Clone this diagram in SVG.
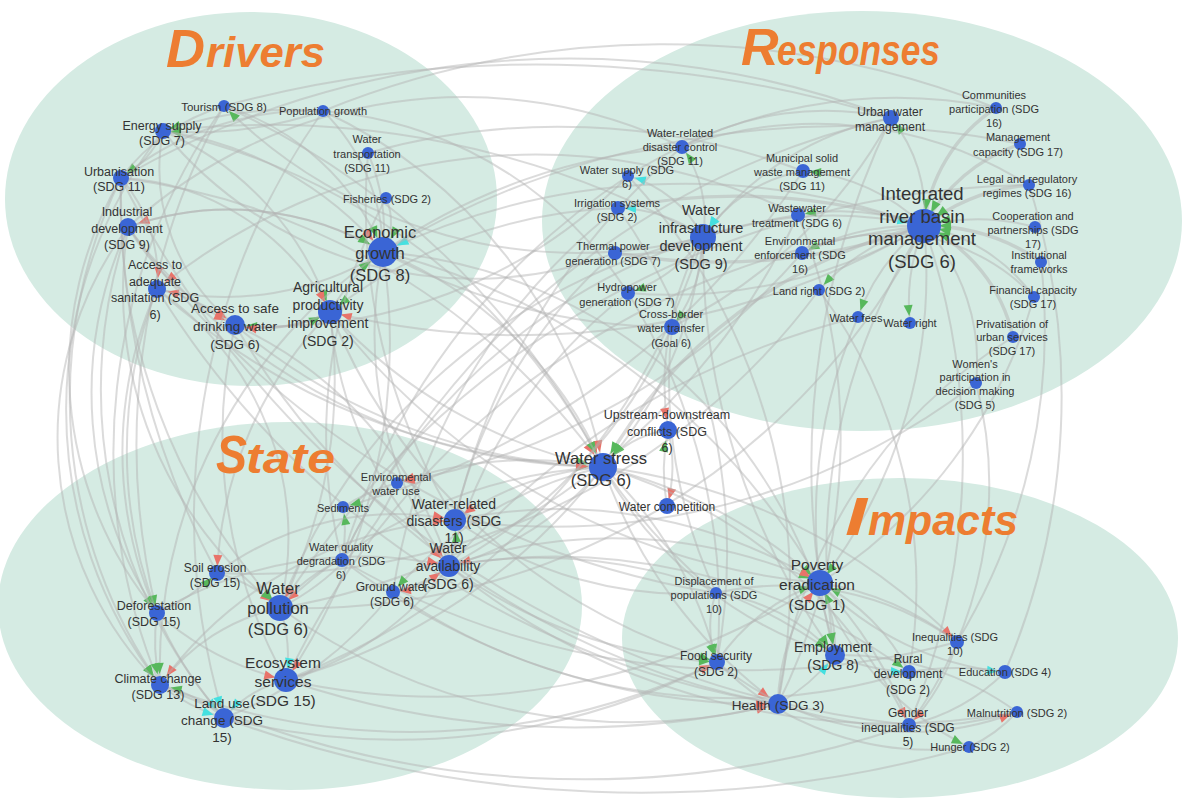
<svg xmlns="http://www.w3.org/2000/svg" width="1183" height="807" viewBox="0 0 1183 807">
<style>
.bg{fill:#d5ebe3}
#connectors path{fill:none;stroke:#b2b2b2;stroke-opacity:.47;stroke-width:2}
#connectors path.w{stroke-width:3.4}
.n circle{fill:#3a65d5}
.n text{font-family:"Liberation Sans",Arial,sans-serif;fill:#333;text-anchor:middle}
.f11{font-size:11px}.f12{font-size:12px}.f125{font-size:12.5px}.f135{font-size:13.5px}.f14{font-size:14px}.f145{font-size:14.5px}.f155{font-size:15.5px}.f165{font-size:16.5px}.f185{font-size:18.5px}
.ttl{font-family:"Liberation Sans",Arial,sans-serif;font-weight:bold;font-style:italic;fill:#ed7d31}
</style>
<defs>
<marker id="gs" markerUnits="userSpaceOnUse" orient="auto" markerWidth="1" markerHeight="1" overflow="visible"><path d="M-18,-4.5 L-7,0 L-18,4.5 Z" fill="#57b85c"/></marker>
<marker id="gm" markerUnits="userSpaceOnUse" orient="auto" markerWidth="1" markerHeight="1" overflow="visible"><path d="M-22,-4.5 L-11,0 L-22,4.5 Z" fill="#57b85c"/></marker>
<marker id="gl" markerUnits="userSpaceOnUse" orient="auto" markerWidth="1" markerHeight="1" overflow="visible"><path d="M-27,-4.5 L-15,0 L-27,4.5 Z" fill="#57b85c"/></marker>
<marker id="rs" markerUnits="userSpaceOnUse" orient="auto" markerWidth="1" markerHeight="1" overflow="visible"><path d="M-18,-4.5 L-7,0 L-18,4.5 Z" fill="#e8736a"/></marker>
<marker id="rm" markerUnits="userSpaceOnUse" orient="auto" markerWidth="1" markerHeight="1" overflow="visible"><path d="M-22,-4.5 L-11,0 L-22,4.5 Z" fill="#e8736a"/></marker>
<marker id="rl" markerUnits="userSpaceOnUse" orient="auto" markerWidth="1" markerHeight="1" overflow="visible"><path d="M-27,-4.5 L-15,0 L-27,4.5 Z" fill="#e8736a"/></marker>
<marker id="cs" markerUnits="userSpaceOnUse" orient="auto" markerWidth="1" markerHeight="1" overflow="visible"><path d="M-18,-4.5 L-7,0 L-18,4.5 Z" fill="#45e0e0"/></marker>
<marker id="cm" markerUnits="userSpaceOnUse" orient="auto" markerWidth="1" markerHeight="1" overflow="visible"><path d="M-22,-4.5 L-11,0 L-22,4.5 Z" fill="#45e0e0"/></marker>
<marker id="cl" markerUnits="userSpaceOnUse" orient="auto" markerWidth="1" markerHeight="1" overflow="visible"><path d="M-27,-4.5 L-15,0 L-27,4.5 Z" fill="#45e0e0"/></marker>
</defs>
<rect width="1183" height="807" fill="#ffffff"/>
<g id="areas">
<ellipse class="bg" cx="251" cy="199" rx="246" ry="187"/>
<ellipse class="bg" cx="862" cy="221" rx="320" ry="210"/>
<ellipse class="bg" cx="290" cy="606" rx="292" ry="184"/>
<ellipse class="bg" cx="900" cy="638" rx="278" ry="160"/>
</g>
<g id="connectors">
<path class="w" d="M996,108 A160,160 0 0 0 924,226" marker-end="url(#gl)"/>
<path class="w" d="M1020,144 A170,170 0 0 0 924,226" marker-end="url(#gl)"/>
<path class="w" d="M1029,185 A200,200 0 0 0 924,226" marker-end="url(#gl)"/>
<path d="M1035,227 A220,220 0 0 0 924,226" marker-end="url(#gl)"/>
<path class="w" d="M1041,262 A200,200 0 0 0 924,226" marker-end="url(#gl)"/>
<path d="M1034,297 A180,180 0 0 0 924,226" marker-end="url(#gl)"/>
<path class="w" d="M1013,337 A160,160 0 0 0 924,226" marker-end="url(#gl)"/>
<path d="M976,383 A200,200 0 0 0 924,226"/>
<path d="M924,226 A150,150 0 0 0 891,118" marker-end="url(#gs)"/>
<path d="M924,226 A200,200 0 0 0 910,323" marker-end="url(#gs)"/>
<path d="M924,226 A200,200 0 0 0 858,317" marker-end="url(#gs)"/>
<path d="M924,226 A220,220 0 0 0 819,290" marker-end="url(#gs)"/>
<path d="M924,226 A250,250 0 0 0 802,253" marker-end="url(#gs)"/>
<path d="M924,226 A250,250 0 0 0 798,215" marker-end="url(#gs)"/>
<path d="M924,226 A200,200 0 0 0 803,171" marker-end="url(#gs)"/>
<path d="M703,237 A400,400 0 0 1 924,226" marker-end="url(#cl)"/>
<path class="w" d="M924,226 A500,500 0 0 0 603,467" marker-end="url(#gl)"/>
<path d="M924,226 A700,700 0 0 0 383,252" marker-end="url(#cl)"/>
<path d="M924,226 A800,800 0 0 1 330,312" marker-end="url(#rm)"/>
<path d="M924,226 A700,700 0 0 1 280,608"/>
<path d="M924,226 A500,500 0 0 1 820,583" marker-end="url(#gm)"/>
<path d="M924,226 A600,600 0 0 0 835,655" marker-end="url(#gm)"/>
<path d="M703,237 A120,120 0 0 0 682,147" marker-end="url(#gs)"/>
<path d="M703,237 A120,120 0 0 0 628,176" marker-end="url(#cs)"/>
<path d="M703,237 A150,150 0 0 0 618,208" marker-end="url(#cs)"/>
<path d="M703,237 A150,150 0 0 1 615,253"/>
<path d="M703,237 A150,150 0 0 1 628,293" marker-end="url(#gs)"/>
<path d="M703,237 A150,150 0 0 1 672,327" marker-end="url(#gs)"/>
<path d="M891,118 A300,300 0 0 0 703,237" marker-end="url(#cm)"/>
<path d="M803,171 A150,150 0 0 0 703,237" marker-end="url(#cm)"/>
<path d="M682,147 A400,400 0 0 1 1029,185"/>
<path d="M628,176 A500,500 0 0 1 996,108"/>
<path class="w" d="M618,208 A600,600 0 0 1 924,226"/>
<path class="w" d="M615,253 A600,600 0 0 0 924,226"/>
<path d="M628,293 A500,500 0 0 0 924,226"/>
<path d="M672,327 A500,500 0 0 0 891,118"/>
<path d="M682,147 A300,300 0 0 1 891,118"/>
<path d="M802,253 A200,200 0 0 1 1034,297"/>
<path d="M224,106 A1200,1200 0 0 1 891,118"/>
<path d="M323,111 A900,900 0 0 1 996,108"/>
<path d="M163,131 A900,900 0 0 1 703,237"/>
<path d="M383,252 A600,600 0 0 1 682,147"/>
<path d="M368,153 A700,700 0 0 1 803,171"/>
<path d="M618,208 A500,500 0 0 0 330,312" marker-end="url(#gm)"/>
<path d="M628,176 A500,500 0 0 1 235,325" marker-end="url(#gm)"/>
<path d="M798,215 A600,600 0 0 0 157,289" marker-end="url(#rm)"/>
<path d="M628,293 A400,400 0 0 0 163,131" marker-end="url(#gs)"/>
<path d="M615,253 A400,400 0 0 1 163,131"/>
<path d="M672,327 A600,600 0 0 1 383,252"/>
<path d="M682,147 A500,500 0 0 0 128,227"/>
<path d="M891,118 A900,900 0 0 0 121,178"/>
<path d="M1020,144 A900,900 0 0 0 383,252"/>
<path d="M703,237 A500,500 0 0 1 224,106" marker-end="url(#gs)"/>
<path d="M383,252 A300,300 0 0 0 128,227" marker-end="url(#rm)"/>
<path d="M383,252 A200,200 0 0 0 323,111"/>
<path d="M383,252 A300,300 0 0 1 157,289" marker-end="url(#rm)"/>
<path d="M121,178 A150,150 0 0 1 157,289" marker-end="url(#rm)"/>
<path d="M163,131 A200,200 0 0 0 235,325"/>
<path d="M163,131 A300,300 0 0 1 330,312" marker-end="url(#gm)"/>
<path d="M128,227 A300,300 0 0 1 383,252" marker-end="url(#gl)"/>
<path d="M224,106 A250,250 0 0 1 383,252" marker-end="url(#gl)"/>
<path d="M386,198 A60,60 0 0 1 383,252" marker-end="url(#gl)"/>
<path d="M368,153 A200,200 0 0 1 383,252"/>
<path d="M323,111 A300,300 0 0 0 121,178" marker-end="url(#gs)"/>
<path d="M323,111 A400,400 0 0 1 163,131" marker-end="url(#gs)"/>
<path d="M330,312 A200,200 0 0 1 383,252" marker-end="url(#gl)"/>
<path d="M235,325 A150,150 0 0 0 330,312" marker-end="url(#gm)"/>
<path d="M330,312 A150,150 0 0 1 235,325" marker-end="url(#rm)"/>
<path d="M157,289 A200,200 0 0 1 235,325" marker-end="url(#rm)"/>
<path d="M121,178 A250,250 0 0 1 330,312" marker-end="url(#rm)"/>
<path d="M163,131 A350,350 0 0 1 383,252" marker-end="url(#rl)"/>
<path d="M128,227 A250,250 0 0 0 235,325" marker-end="url(#rm)"/>
<path d="M224,106 A200,200 0 0 0 121,178"/>
<path d="M163,131 A100,100 0 0 1 121,178"/>
<path d="M383,252 A400,400 0 0 1 603,467" marker-end="url(#rl)"/>
<path d="M330,312 A500,500 0 0 0 603,467" marker-end="url(#gl)"/>
<path d="M235,325 A600,600 0 0 0 603,467" marker-end="url(#gl)"/>
<path d="M323,111 A500,500 0 0 1 603,467" marker-end="url(#rl)"/>
<path d="M121,178 A700,700 0 0 1 603,467" marker-end="url(#rl)"/>
<path d="M128,227 A600,600 0 0 0 603,467" marker-end="url(#gl)"/>
<path d="M163,131 A650,650 0 0 1 603,467" marker-end="url(#gl)"/>
<path d="M157,289 A700,700 0 0 0 603,467" marker-end="url(#rl)"/>
<path d="M224,106 A800,800 0 0 1 603,467"/>
<path d="M121,178 A500,500 0 0 0 160,685" marker-end="url(#gm)"/>
<path d="M128,227 A400,400 0 0 0 157,613" marker-end="url(#gs)"/>
<path d="M163,131 A450,450 0 0 0 160,685" marker-end="url(#gm)"/>
<path d="M157,289 A400,400 0 0 0 224,718" marker-end="url(#cm)"/>
<path d="M121,178 A600,600 0 0 0 280,608" marker-end="url(#gm)"/>
<path d="M128,227 A400,400 0 0 0 280,608" marker-end="url(#rm)"/>
<path d="M330,312 A400,400 0 0 0 217,573" marker-end="url(#rs)"/>
<path d="M330,312 A500,500 0 0 1 280,608" marker-end="url(#rm)"/>
<path d="M383,252 A500,500 0 0 0 160,685" marker-end="url(#gm)"/>
<path d="M383,252 A600,600 0 0 1 286,680" marker-end="url(#rm)"/>
<path d="M235,325 A500,500 0 0 0 286,680"/>
<path d="M224,106 A700,700 0 0 0 157,613" marker-end="url(#gs)"/>
<path d="M323,111 A700,700 0 0 0 224,718" marker-end="url(#cm)"/>
<path d="M368,153 A600,600 0 0 0 455,520"/>
<path d="M386,198 A500,500 0 0 0 342,560"/>
<path d="M157,289 A300,300 0 0 1 280,608"/>
<path d="M235,325 A400,400 0 0 1 449,566"/>
<path d="M330,312 A400,400 0 0 0 449,566" marker-end="url(#rm)"/>
<path d="M383,252 A400,400 0 0 0 449,566" marker-end="url(#rm)"/>
<path d="M121,178 A800,800 0 0 0 217,573"/>
<path d="M128,227 A350,350 0 0 0 160,685"/>
<path d="M157,289 A450,450 0 0 0 157,613"/>
<path d="M121,178 A380,380 0 0 0 157,613"/>
<path d="M224,106 A600,600 0 0 0 160,685"/>
<path d="M128,227 A500,500 0 0 0 224,718"/>
<path d="M703,237 A600,600 0 0 0 280,608"/>
<path d="M703,237 A700,700 0 0 1 286,680"/>
<path d="M924,226 A800,800 0 0 0 286,680"/>
<path d="M628,293 A500,500 0 0 0 449,566"/>
<path d="M672,327 A500,500 0 0 1 449,566"/>
<path d="M615,253 A500,500 0 0 0 455,520"/>
<path d="M618,208 A600,600 0 0 0 393,592"/>
<path d="M682,147 A700,700 0 0 0 455,520"/>
<path d="M628,176 A700,700 0 0 0 342,560"/>
<path d="M798,215 A600,600 0 0 0 342,560"/>
<path d="M798,215 A700,700 0 0 1 280,608"/>
<path d="M802,253 A700,700 0 0 1 397,483" marker-end="url(#rs)"/>
<path d="M1029,185 A900,900 0 0 0 280,608"/>
<path d="M819,290 A700,700 0 0 1 217,573"/>
<path d="M858,317 A800,800 0 0 0 449,566"/>
<path d="M891,118 A800,800 0 0 0 342,560"/>
<path d="M803,171 A800,800 0 0 1 343,507" marker-end="url(#gs)"/>
<path d="M976,383 A700,700 0 0 1 455,520"/>
<path d="M703,237 A300,300 0 0 0 668,430" marker-end="url(#rm)"/>
<path d="M668,430 A150,150 0 0 1 667,506" marker-end="url(#rs)"/>
<path d="M667,506 A200,200 0 0 1 668,430" marker-end="url(#gm)"/>
<path d="M603,467 A300,300 0 0 0 455,520" marker-end="url(#rm)"/>
<path d="M603,467 A300,300 0 0 1 449,566" marker-end="url(#rm)"/>
<path d="M603,467 A400,400 0 0 0 397,483" marker-end="url(#rs)"/>
<path d="M603,467 A500,500 0 0 1 820,583" marker-end="url(#gm)"/>
<path d="M603,467 A400,400 0 0 1 717,662" marker-end="url(#gs)"/>
<path d="M603,467 A500,500 0 0 0 778,704" marker-end="url(#rm)"/>
<path d="M603,467 A500,500 0 0 1 909,725" marker-end="url(#rs)"/>
<path d="M603,467 A600,600 0 0 1 957,642" marker-end="url(#rs)"/>
<path d="M603,467 A400,400 0 0 0 835,655"/>
<path d="M603,467 A600,600 0 0 0 716,593"/>
<path d="M603,467 A500,500 0 0 0 280,608" marker-end="url(#rm)"/>
<path d="M603,467 A600,600 0 0 1 286,680"/>
<path d="M603,467 A400,400 0 0 0 393,592" marker-end="url(#gs)"/>
<path d="M703,237 A400,400 0 0 1 603,467" marker-end="url(#gl)"/>
<path d="M668,430 A100,100 0 0 0 603,467" marker-end="url(#gl)"/>
<path d="M157,613 A200,200 0 0 0 160,685" marker-end="url(#gm)"/>
<path d="M224,718 A150,150 0 0 0 160,685" marker-end="url(#gm)"/>
<path d="M280,608 A200,200 0 0 0 160,685" marker-end="url(#rm)"/>
<path d="M157,613 A200,200 0 0 0 217,573" marker-end="url(#gs)"/>
<path d="M217,573 A150,150 0 0 1 280,608" marker-end="url(#gm)"/>
<path d="M157,613 A300,300 0 0 0 286,680" marker-end="url(#rm)"/>
<path d="M280,608 A150,150 0 0 1 286,680" marker-end="url(#cm)"/>
<path d="M286,680 A120,120 0 0 0 224,718" marker-end="url(#cm)"/>
<path d="M160,685 A200,200 0 0 0 224,718" marker-end="url(#cm)"/>
<path d="M280,608 A150,150 0 0 1 342,560"/>
<path d="M342,560 A150,150 0 0 0 343,507" marker-end="url(#gs)"/>
<path d="M449,566 A120,120 0 0 0 455,520" marker-end="url(#gm)"/>
<path d="M449,566 A100,100 0 0 1 393,592" marker-end="url(#rs)"/>
<path d="M393,592 A150,150 0 0 0 449,566" marker-end="url(#rm)"/>
<path d="M217,573 A300,300 0 0 1 455,520" marker-end="url(#rm)"/>
<path d="M157,613 A400,400 0 0 1 449,566" marker-end="url(#rm)"/>
<path d="M160,685 A400,400 0 0 1 455,520" marker-end="url(#rm)"/>
<path d="M286,680 A300,300 0 0 0 449,566"/>
<path d="M224,718 A400,400 0 0 0 393,592"/>
<path d="M343,507 A200,200 0 0 1 397,483"/>
<path d="M280,608 A250,250 0 0 0 397,483"/>
<path d="M280,608 A600,600 0 0 0 778,704" marker-end="url(#rm)"/>
<path d="M342,560 A700,700 0 0 0 778,704" marker-end="url(#rm)"/>
<path d="M449,566 A500,500 0 0 1 820,583" marker-end="url(#gm)"/>
<path d="M455,520 A500,500 0 0 1 820,583" marker-end="url(#rm)"/>
<path d="M455,520 A400,400 0 0 0 716,593"/>
<path d="M449,566 A500,500 0 0 0 717,662" marker-end="url(#gs)"/>
<path d="M160,685 A700,700 0 0 0 717,662" marker-end="url(#rs)"/>
<path d="M449,566 A500,500 0 0 1 835,655" marker-end="url(#gm)"/>
<path d="M449,566 A600,600 0 0 1 909,672" marker-end="url(#gs)"/>
<path d="M286,680 A700,700 0 0 0 820,583"/>
<path d="M224,718 A700,700 0 0 0 717,662"/>
<path d="M224,718 A1200,1200 0 0 0 969,747"/>
<path d="M160,685 A1000,1000 0 0 0 909,725"/>
<path d="M286,680 A900,900 0 0 0 778,704"/>
<path d="M393,592 A600,600 0 0 0 909,672"/>
<path d="M449,566 A700,700 0 0 0 1017,712"/>
<path d="M342,560 A800,800 0 0 0 957,642"/>
<path d="M835,655 A150,150 0 0 0 820,583" marker-end="url(#gm)"/>
<path d="M909,672 A200,200 0 0 0 820,583" marker-end="url(#gm)"/>
<path d="M778,704 A200,200 0 0 1 820,583" marker-end="url(#rm)"/>
<path d="M717,662 A200,200 0 0 1 820,583" marker-end="url(#gm)"/>
<path d="M820,583 A300,300 0 0 1 957,642"/>
<path d="M820,583 A300,300 0 0 0 1005,672" marker-end="url(#cs)"/>
<path d="M820,583 A300,300 0 0 0 969,747" marker-end="url(#gs)"/>
<path d="M835,655 A200,200 0 0 0 909,672" marker-end="url(#cs)"/>
<path d="M717,662 A300,300 0 0 0 1017,712" marker-end="url(#rs)"/>
<path d="M778,704 A200,200 0 0 0 835,655" marker-end="url(#cm)"/>
<path d="M957,642 A200,200 0 0 1 909,725" marker-end="url(#rs)"/>
<path d="M909,672 A300,300 0 0 1 1005,672"/>
<path d="M716,593 A300,300 0 0 1 957,642"/>
<path d="M716,593 A200,200 0 0 1 835,655"/>
<path d="M717,662 A300,300 0 0 0 969,747"/>
<path d="M778,704 A400,400 0 0 0 1017,712"/>
<path d="M909,725 A200,200 0 0 0 1005,672"/>
<path d="M835,655 A300,300 0 0 1 1017,712"/>
<path d="M969,747 A150,150 0 0 0 1017,712"/>
<path d="M820,583 A400,400 0 0 1 909,725"/>
<path d="M716,593 A100,100 0 0 0 717,662" marker-end="url(#gs)"/>
<path d="M924,226 A700,700 0 0 1 909,725"/>
<path d="M976,383 A400,400 0 0 1 909,725"/>
<path d="M1013,337 A500,500 0 0 0 778,704"/>
<path d="M1034,297 A500,500 0 0 1 820,583"/>
<path d="M819,290 A500,500 0 0 1 909,672"/>
<path d="M858,317 A500,500 0 0 0 835,655"/>
<path d="M703,237 A700,700 0 0 0 835,655" marker-end="url(#gm)"/>
<path d="M672,327 A500,500 0 0 0 716,593"/>
<path d="M628,293 A600,600 0 0 1 717,662"/>
<path d="M618,208 A600,600 0 0 1 717,662"/>
<path d="M798,215 A600,600 0 0 1 778,704"/>
<path d="M628,176 A600,600 0 0 1 778,704"/>
<path d="M891,118 A800,800 0 0 0 820,583"/>
<path d="M1041,262 A600,600 0 0 1 957,642"/>
<path d="M1029,185 A700,700 0 0 1 1005,672"/>
<path d="M383,252 A500,500 0 0 1 835,655" marker-end="url(#gm)"/>
<path d="M330,312 A600,600 0 0 0 717,662" marker-end="url(#gs)"/>
<path d="M330,312 A700,700 0 0 0 820,583"/>
<path d="M383,252 A700,700 0 0 1 820,583"/>
<path d="M235,325 A800,800 0 0 0 778,704"/>
<path d="M157,289 A900,900 0 0 0 778,704"/>
<path d="M128,227 A900,900 0 0 0 716,593"/>
<path d="M121,178 A1000,1000 0 0 0 909,725"/>
</g>
<g id="titles">
<text class="ttl" x="166" y="67" font-size="54">D</text><text class="ttl" x="206" y="67" font-size="42" textLength="119" lengthAdjust="spacingAndGlyphs">rivers</text>
<text class="ttl" x="741" y="65" font-size="52">R</text><text class="ttl" x="777" y="65" font-size="42" textLength="163" lengthAdjust="spacingAndGlyphs">esponses</text>
<text class="ttl" x="216" y="473" font-size="53" textLength="31" lengthAdjust="spacingAndGlyphs">S</text><text class="ttl" x="246" y="473" font-size="43" textLength="89" lengthAdjust="spacingAndGlyphs">tate</text>
<text class="ttl" x="845" y="535" font-size="53" textLength="22" lengthAdjust="spacingAndGlyphs">I</text><text class="ttl" x="868" y="535" font-size="42" textLength="150" lengthAdjust="spacingAndGlyphs">mpacts</text>
</g>
<g id="nodes">
<g id="tourism" class="n"><circle cx="224" cy="106" r="6"/><text class="f11" style="font-size:11.5px" x="224" y="111">Tourism (SDG 8)</text></g>
<g id="population-growth" class="n"><circle cx="323" cy="111" r="6"/><text class="f11" x="323" y="115">Population growth</text></g>
<g id="energy-supply" class="n"><circle cx="163" cy="131" r="8"/><text class="f125"><tspan x="162" y="129.5">Energy supply</tspan><tspan x="162" y="144.5">(SDG 7)</tspan></text></g>
<g id="urbanisation" class="n"><circle cx="121" cy="178" r="8"/><text class="f125"><tspan x="119" y="175.5">Urbanisation</tspan><tspan x="119" y="190.5">(SDG 11)</tspan></text></g>
<g id="water-transportation" class="n"><circle cx="368" cy="153" r="6"/><text class="f11"><tspan x="367" y="143">Water</tspan><tspan x="367" y="158">transportation</tspan><tspan x="367" y="172">(SDG 11)</tspan></text></g>
<g id="fisheries" class="n"><circle cx="386" cy="198" r="6"/><text class="f11" x="387" y="203">Fisheries (SDG 2)</text></g>
<g id="industrial-development" class="n"><circle cx="128" cy="227" r="9"/><text class="f125"><tspan x="127" y="216">Industrial</tspan><tspan x="127" y="232.5">development</tspan><tspan x="127" y="249">(SDG 9)</tspan></text></g>
<g id="economic-growth" class="n"><circle cx="383" cy="252" r="15"/><text class="f165"><tspan x="380" y="238">Economic</tspan><tspan x="380" y="259">growth</tspan><tspan x="380" y="281">(SDG 8)</tspan></text></g>
<g id="sanitation" class="n"><circle cx="157" cy="289" r="9"/><text class="f125"><tspan x="155" y="268.5">Access to</tspan><tspan x="155" y="285.5">adequate</tspan><tspan x="155" y="301.5">sanitation (SDG</tspan><tspan x="155" y="318.5">6)</tspan></text></g>
<g id="drinking-water" class="n"><circle cx="235" cy="325" r="10"/><text class="f135"><tspan x="235" y="313">Access to safe</tspan><tspan x="235" y="331">drinking water</tspan><tspan x="235" y="349">(SDG 6)</tspan></text></g>
<g id="agricultural-productivity" class="n"><circle cx="330" cy="312" r="12"/><text class="f14"><tspan x="328" y="292">Agricultural</tspan><tspan x="328" y="310">productivity</tspan><tspan x="328" y="328">improvement</tspan><tspan x="328" y="346">(SDG 2)</tspan></text></g>
<g id="disaster-control" class="n"><circle cx="682" cy="147" r="7"/><text class="f11"><tspan x="680" y="137">Water-related</tspan><tspan x="680" y="151">disaster control</tspan><tspan x="680" y="165">(SDG 11)</tspan></text></g>
<g id="water-supply" class="n"><circle cx="628" cy="176" r="6"/><text class="f11"><tspan x="627" y="174">Water supply (SDG</tspan><tspan x="627" y="188">6)</tspan></text></g>
<g id="irrigation" class="n"><circle cx="618" cy="208" r="7"/><text class="f11"><tspan x="617" y="207">Irrigation systems</tspan><tspan x="617" y="221">(SDG 2)</tspan></text></g>
<g id="water-infrastructure" class="n"><circle cx="703" cy="237" r="13"/><text class="f145"><tspan x="701" y="215">Water</tspan><tspan x="701" y="233">infrastructure</tspan><tspan x="701" y="251">development</tspan><tspan x="701" y="269">(SDG 9)</tspan></text></g>
<g id="thermal-power" class="n"><circle cx="615" cy="253" r="7"/><text class="f11"><tspan x="613" y="250">Thermal power</tspan><tspan x="613" y="265">generation (SDG 7)</tspan></text></g>
<g id="hydropower" class="n"><circle cx="628" cy="293" r="7"/><text class="f11"><tspan x="627" y="291">Hydropower</tspan><tspan x="627" y="306">generation (SDG 7)</tspan></text></g>
<g id="cross-border" class="n"><circle cx="672" cy="327" r="8"/><text class="f11"><tspan x="671" y="318">Cross-border</tspan><tspan x="671" y="332">water transfer</tspan><tspan x="671" y="347">(Goal 6)</tspan></text></g>
<g id="municipal-waste" class="n"><circle cx="803" cy="171" r="7"/><text class="f11"><tspan x="802" y="162">Municipal solid</tspan><tspan x="802" y="176">waste management</tspan><tspan x="802" y="190">(SDG 11)</tspan></text></g>
<g id="wastewater" class="n"><circle cx="798" cy="215" r="7"/><text class="f11"><tspan x="797" y="212">Wastewater</tspan><tspan x="797" y="227">treatment (SDG 6)</tspan></text></g>
<g id="enforcement" class="n"><circle cx="802" cy="253" r="7"/><text class="f11"><tspan x="800" y="245">Environmental</tspan><tspan x="800" y="259">enforcement (SDG</tspan><tspan x="800" y="273">16)</tspan></text></g>
<g id="land-right" class="n"><circle cx="819" cy="290" r="6"/><text class="f11" x="819" y="295">Land right (SDG 2)</text></g>
<g id="water-fees" class="n"><circle cx="858" cy="317" r="6"/><text class="f11" x="856" y="322">Water fees</text></g>
<g id="water-right" class="n"><circle cx="910" cy="323" r="6"/><text class="f11" x="910" y="327">Water right</text></g>
<g id="urban-water" class="n"><circle cx="891" cy="118" r="8"/><text class="f12"><tspan x="890" y="115.5">Urban water</tspan><tspan x="890" y="130.5">management</tspan></text></g>
<g id="communities" class="n"><circle cx="996" cy="108" r="6"/><text class="f11"><tspan x="994" y="99">Communities</tspan><tspan x="994" y="113">participation (SDG</tspan><tspan x="994" y="127">16)</tspan></text></g>
<g id="management-capacity" class="n"><circle cx="1020" cy="144" r="6"/><text class="f11"><tspan x="1018" y="141">Management</tspan><tspan x="1018" y="156">capacity (SDG 17)</tspan></text></g>
<g id="legal-regimes" class="n"><circle cx="1029" cy="185" r="6"/><text class="f11"><tspan x="1027" y="183">Legal and regulatory</tspan><tspan x="1027" y="197">regimes (SDG 16)</tspan></text></g>
<g id="irbm" class="n"><circle cx="924" cy="226" r="17"/><text class="f185"><tspan x="922" y="199.5">Integrated</tspan><tspan x="922" y="222.5">river basin</tspan><tspan x="922" y="244.5">management</tspan><tspan x="922" y="267.5">(SDG 6)</tspan></text></g>
<g id="cooperation" class="n"><circle cx="1035" cy="227" r="6"/><text class="f11"><tspan x="1033" y="220">Cooperation and</tspan><tspan x="1033" y="234">partnerships (SDG</tspan><tspan x="1033" y="248">17)</tspan></text></g>
<g id="institutional" class="n"><circle cx="1041" cy="262" r="6"/><text class="f11"><tspan x="1039" y="259">Institutional</tspan><tspan x="1039" y="273">frameworks</tspan></text></g>
<g id="financial" class="n"><circle cx="1034" cy="297" r="6"/><text class="f11"><tspan x="1033" y="294">Financial capacity</tspan><tspan x="1033" y="308">(SDG 17)</tspan></text></g>
<g id="privatisation" class="n"><circle cx="1013" cy="337" r="6"/><text class="f11"><tspan x="1012" y="328">Privatisation of</tspan><tspan x="1012" y="341">urban services</tspan><tspan x="1012" y="355">(SDG 17)</tspan></text></g>
<g id="womens-participation" class="n"><circle cx="976" cy="383" r="6"/><text class="f11"><tspan x="975" y="368">Women's</tspan><tspan x="975" y="381">participation in</tspan><tspan x="975" y="395">decision making</tspan><tspan x="975" y="409">(SDG 5)</tspan></text></g>
<g id="water-stress" class="n"><circle cx="603" cy="467" r="14"/><text class="f165"><tspan x="601" y="464">Water stress</tspan><tspan x="601" y="486">(SDG 6)</tspan></text></g>
<g id="upstream-downstream" class="n"><circle cx="668" cy="430" r="9"/><text class="f125"><tspan x="667" y="418.5">Upstream-downstream</tspan><tspan x="667" y="435.5">conflicts (SDG</tspan><tspan x="667" y="451.5">6)</tspan></text></g>
<g id="water-competition" class="n"><circle cx="667" cy="506" r="8"/><text class="f12" x="667" y="511">Water competition</text></g>
<g id="env-water-use" class="n"><circle cx="397" cy="483" r="6"/><text class="f11"><tspan x="396" y="481">Environmental</tspan><tspan x="396" y="495">water use</tspan></text></g>
<g id="sediments" class="n"><circle cx="343" cy="507" r="6"/><text class="f11" x="343" y="512">Sediments</text></g>
<g id="water-disasters" class="n"><circle cx="455" cy="520" r="11"/><text class="f14"><tspan x="454" y="509">Water-related</tspan><tspan x="454" y="526">disasters (SDG</tspan><tspan x="454" y="543">11)</tspan></text></g>
<g id="water-availability" class="n"><circle cx="449" cy="566" r="11"/><text class="f14"><tspan x="448" y="553">Water</tspan><tspan x="448" y="571">availability</tspan><tspan x="448" y="589">(SDG 6)</tspan></text></g>
<g id="water-quality" class="n"><circle cx="342" cy="560" r="7"/><text class="f11"><tspan x="341" y="551">Water quality</tspan><tspan x="341" y="565">degradation (SDG</tspan><tspan x="341" y="579">6)</tspan></text></g>
<g id="ground-water" class="n"><circle cx="393" cy="592" r="7"/><text class="f12"><tspan x="392" y="590.5">Ground water</tspan><tspan x="392" y="605.5">(SDG 6)</tspan></text></g>
<g id="soil-erosion" class="n"><circle cx="217" cy="573" r="8"/><text class="f12"><tspan x="215" y="571.5">Soil erosion</tspan><tspan x="215" y="586.5">(SDG 15)</tspan></text></g>
<g id="water-pollution" class="n"><circle cx="280" cy="608" r="13"/><text class="f165"><tspan x="278" y="594">Water</tspan><tspan x="278" y="614">pollution</tspan><tspan x="278" y="635">(SDG 6)</tspan></text></g>
<g id="deforestation" class="n"><circle cx="157" cy="613" r="8"/><text class="f125"><tspan x="154" y="609.5">Deforestation</tspan><tspan x="154" y="625.5">(SDG 15)</tspan></text></g>
<g id="climate-change" class="n"><circle cx="160" cy="685" r="9"/><text class="f125"><tspan x="158" y="682.5">Climate change</tspan><tspan x="158" y="698.5">(SDG 13)</tspan></text></g>
<g id="ecosystem-services" class="n"><circle cx="286" cy="680" r="12"/><text class="f155"><tspan x="283" y="667.5">Ecosystem</tspan><tspan x="283" y="686.5">services</tspan><tspan x="283" y="705.5">(SDG 15)</tspan></text></g>
<g id="land-use-change" class="n"><circle cx="224" cy="718" r="10"/><text class="f135"><tspan x="222" y="708">Land use</tspan><tspan x="222" y="725">change (SDG</tspan><tspan x="222" y="742">15)</tspan></text></g>
<g id="poverty" class="n"><circle cx="820" cy="583" r="13"/><text class="f155"><tspan x="817" y="569.5">Poverty</tspan><tspan x="817" y="589.5">eradication</tspan><tspan x="817" y="609.5">(SDG 1)</tspan></text></g>
<g id="displacement" class="n"><circle cx="716" cy="593" r="6"/><text class="f11"><tspan x="714" y="585">Displacement of</tspan><tspan x="714" y="599">populations (SDG</tspan><tspan x="714" y="613">10)</tspan></text></g>
<g id="food-security" class="n"><circle cx="717" cy="662" r="8"/><text class="f12"><tspan x="716" y="659.5">Food security</tspan><tspan x="716" y="675.5">(SDG 2)</tspan></text></g>
<g id="employment" class="n"><circle cx="835" cy="655" r="10"/><text class="f14"><tspan x="833" y="652">Employment</tspan><tspan x="833" y="670">(SDG 8)</tspan></text></g>
<g id="health" class="n"><circle cx="778" cy="704" r="10"/><text class="f135" x="778" y="710">Health (SDG 3)</text></g>
<g id="rural-development" class="n"><circle cx="909" cy="672" r="7"/><text class="f12"><tspan x="908" y="662.5">Rural</tspan><tspan x="908" y="677.5">development</tspan><tspan x="908" y="693.5">(SDG 2)</tspan></text></g>
<g id="inequalities" class="n"><circle cx="957" cy="642" r="7"/><text class="f11"><tspan x="955" y="641">Inequalities (SDG</tspan><tspan x="955" y="655">10)</tspan></text></g>
<g id="education" class="n"><circle cx="1005" cy="672" r="7"/><text class="f11" x="1005" y="676">Education (SDG 4)</text></g>
<g id="gender-inequalities" class="n"><circle cx="909" cy="725" r="7"/><text class="f12"><tspan x="908" y="716.5">Gender</tspan><tspan x="908" y="731.5">inequalities (SDG</tspan><tspan x="908" y="745.5">5)</tspan></text></g>
<g id="malnutrition" class="n"><circle cx="1017" cy="712" r="6"/><text class="f11" x="1017" y="717">Malnutrition (SDG 2)</text></g>
<g id="hunger" class="n"><circle cx="969" cy="747" r="6"/><text class="f11" x="970" y="751">Hunger (SDG 2)</text></g>
</g>
</svg>
